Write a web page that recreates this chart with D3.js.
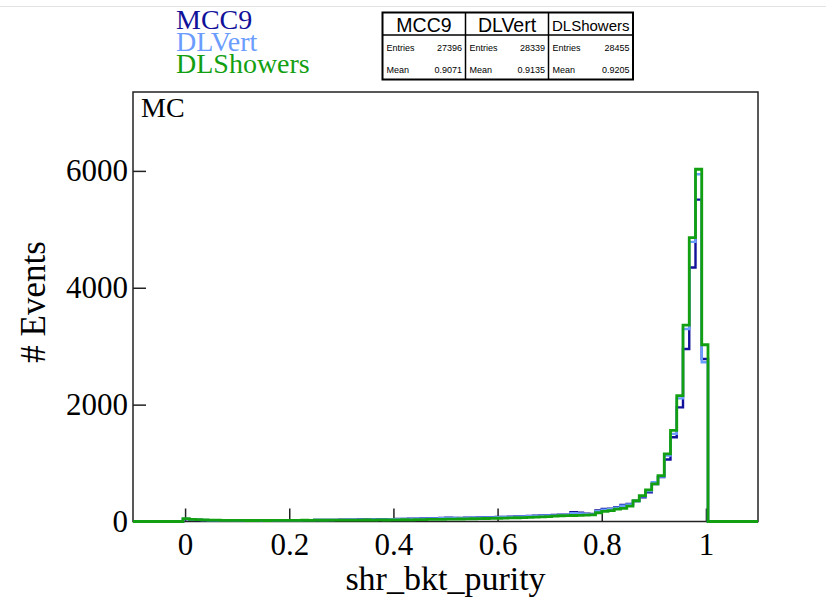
<!DOCTYPE html>
<html>
<head>
<meta charset="utf-8">
<script src="https://cdn.jsdelivr.net/npm/d3@7"></script>
<style>
  body { margin: 0; background: #fff; }
  svg { display: block; }
</style>
</head>
<body>
<div id="chart"></div>
<script>
// histogram definition (ROOT style: 100 bins from -0.1 to 1.1)
var xMin = -0.1, xMax = 1.1, nBins = 100;
var firstBin = 8; // first filled bin, starts at x = -0.004

var seriesNames = ["MCC9", "DLVert", "DLShowers"];
var seriesColors = ["#11119a", "#6b9cff", "#12a012"];

// bin contents from bin 8 up to bin 91
var mcc9Counts = [
  40, 30, 26, 23, 21, 20, 19, 19, 18, 19, 18, 19, 20, 19, 20, 21, 21, 22,
  23, 24, 24, 26, 26, 28, 28, 30, 31, 32, 33, 35, 36, 38, 39, 41,
  43, 45, 47, 50, 52, 55, 57, 60, 64, 62, 60, 63, 66, 70, 72, 75,
  78, 80, 84, 88, 92, 96, 100, 104, 108,
  112, 115, 118, 160, 150, 132, 131, 188,
  215, 220, 245, 285, 300, 350, 416, 501, 640, 760, 1060, 1441, 1953, 2951, 4346, 5508, 2780
];
var dlvertCounts = [
  44, 34, 28, 25, 22, 21, 20, 19, 19, 19, 18, 19, 19, 19, 20, 20, 21, 21,
  22, 23, 23, 25, 25, 26, 27, 28, 29, 30, 31, 32, 33, 35, 36, 38,
  40, 42, 44, 46, 48, 51, 53, 56, 60, 59, 58, 60, 63, 66, 68, 71,
  74, 76, 79, 83, 87, 91, 95, 99, 102,
  105, 110, 113, 140, 138, 125, 122, 175,
  200, 210, 235, 270, 290, 352, 430, 520, 672, 770, 1128, 1499, 2107, 3293, 4785, 5942, 2725
];
var dlshowersCounts = [
  48, 38, 32, 28, 24, 22, 20, 19, 18, 18, 17, 17, 18, 17, 18, 19, 18, 19,
  20, 21, 20, 22, 21, 23, 22, 24, 23, 25, 24, 26, 25, 27, 26, 28,
  28, 30, 29, 32, 33, 35, 36, 38, 40, 41, 43, 45, 47, 49, 51, 53,
  56, 58, 61, 64, 67, 70, 74, 78, 83,
  92, 98, 100, 103, 105, 108, 112, 150,
  172, 185, 212, 225, 262, 355, 444, 541, 644, 786, 1157, 1560, 2153, 3361, 4859, 6028, 3025
];

// stats box
var statEntries = ["27396", "28339", "28455"];
var statMeans = ["0.9071", "0.9135", "0.9205"];

var xTicks = [0, 0.2, 0.4, 0.6, 0.8, 1];
var yTicks = [0, 2000, 4000, 6000];
var yMax = 7350;

var W = 826, H = 604;
var frame = {left: 133, right: 758, top: 92, bottom: 521.5};
var serif = "'Liberation Serif', 'Times New Roman', serif";
var sans = "'Liberation Sans', Arial, sans-serif";

var svg, xScale, yScale;

function histPoints (counts){
  var w = (xMax - xMin) / nBins;
  var pts = [];
  for (var i = 0; i < nBins; i++) {
    var v = 0;
    if (i >= firstBin && i - firstBin < counts.length) v = counts[i - firstBin];
    pts.push([xMin + i * w, v]);
  }
  pts.push([xMax, 0]);
  return pts;
}

function drawFrameAndAxes (){
  xScale = d3.scaleLinear().domain([xMin, xMax]).range([frame.left, frame.right]);
  yScale = d3.scaleLinear().domain([0, yMax]).range([frame.bottom, frame.top]);

  var xAxis = d3.axisBottom(xScale)
    .tickValues(xTicks)
    .tickFormat(function (d){ return String(d); })
    .tickSizeInner(-13).tickSizeOuter(0).tickPadding(11);
  var yAxis = d3.axisLeft(yScale)
    .tickValues(yTicks)
    .tickFormat(function (d){ return String(d); })
    .tickSizeInner(-13).tickSizeOuter(0).tickPadding(5);

  var gx = svg.append("g")
    .attr("class", "x axis")
    .attr("transform", "translate(0," + frame.bottom + ")")
    .call(xAxis);
  var gy = svg.append("g")
    .attr("class", "y axis")
    .attr("transform", "translate(" + frame.left + ",0)")
    .call(yAxis);

  [gx, gy].forEach(function (g){
    g.select(".domain").remove();
    g.selectAll("line").attr("stroke", "#222").attr("stroke-width", 1.5);
    g.selectAll("text")
      .attr("fill", "#000")
      .style("font-family", serif)
      .style("font-size", "31px");
  });

  svg.append("rect")
    .attr("x", frame.left).attr("y", frame.top)
    .attr("width", frame.right - frame.left)
    .attr("height", frame.bottom - frame.top)
    .attr("fill", "none")
    .attr("stroke", "#222")
    .attr("stroke-width", 1.5);

  svg.append("text")
    .attr("x", (frame.left + frame.right) / 2)
    .attr("y", 590)
    .attr("text-anchor", "middle")
    .style("font-family", serif).style("font-size", "34px")
    .text("shr_bkt_purity");

  svg.append("text")
    .attr("transform", "translate(45,302) rotate(-90)")
    .attr("text-anchor", "middle")
    .style("font-family", serif).style("font-size", "35px")
    .text("# Events");

  svg.append("text")
    .attr("x", 141).attr("y", 117)
    .style("font-family", serif).style("font-size", "28px")
    .text("MC");
}

function drawHistograms (){
  var line = d3.line()
    .x(function (d){ return xScale(d[0]); })
    .y(function (d){ return yScale(d[1]); })
    .curve(d3.curveStepAfter);

  var allCounts = [mcc9Counts, dlvertCounts, dlshowersCounts];
  var widths = [2.4, 2.4, 2.8];
  svg.append("g").attr("id", "hists")
    .selectAll("path")
    .data(allCounts)
    .enter()
    .append("path")
    .attr("d", function (d){ return line(histPoints(d)); })
    .attr("fill", "none")
    .attr("stroke", function (d, i){ return seriesColors[i]; })
    .attr("stroke-width", function (d, i){ return widths[i]; })
    .attr("stroke-linejoin", "miter");
}

function drawLegend (){
  svg.append("g").attr("class", "legend")
    .selectAll("text")
    .data(seriesNames)
    .enter()
    .append("text")
    .attr("x", 176)
    .attr("y", function (d, i){ return 29 + i * 22; })
    .attr("fill", function (d, i){ return seriesColors[i]; })
    .style("font-family", serif).style("font-size", "28px")
    .text(function (d){ return d; });
}

function drawStats (){
  var box = {x: 382.5, y: 12.5, w: 250.5, h: 67};
  var colX = [box.x, 465.5, 548.5, box.x + box.w];
  var g = svg.append("g").attr("class", "stats");

  g.append("rect")
    .attr("x", box.x).attr("y", box.y)
    .attr("width", box.w).attr("height", box.h)
    .attr("fill", "#fff").attr("stroke", "#000").attr("stroke-width", 2);
  g.append("line")
    .attr("x1", box.x).attr("x2", box.x + box.w)
    .attr("y1", 35).attr("y2", 35)
    .attr("stroke", "#000").attr("stroke-width", 1.5);
  g.selectAll(".div").data([1, 2]).enter().append("line")
    .attr("x1", function (d){ return colX[d]; })
    .attr("x2", function (d){ return colX[d]; })
    .attr("y1", box.y).attr("y2", box.y + box.h)
    .attr("stroke", "#000").attr("stroke-width", 1.5);

  seriesNames.forEach(function (name, i){
    var x0 = colX[i], x1 = colX[i + 1];
    g.append("text")
      .attr("x", (x0 + x1) / 2).attr("y", name.length > 6 ? 30.7 : 32)
      .attr("text-anchor", "middle")
      .style("font-family", sans)
      .style("font-size", name.length > 6 ? "15px" : "19.5px")
      .text(name);
    [["Entries", statEntries[i], 50.7], ["Mean", statMeans[i], 72.7]].forEach(function (row){
      g.append("text")
        .attr("x", x0 + 4).attr("y", row[2])
        .style("font-family", sans).style("font-size", "9px")
        .text(row[0]);
      g.append("text")
        .attr("x", x1 - 3.5).attr("y", row[2])
        .attr("text-anchor", "end")
        .style("font-family", sans).style("font-size", "9px")
        .text(row[1]);
    });
  });
}

function init (){
  svg = d3.select("#chart")
    .append("svg")
    .attr("width", W)
    .attr("height", H);

  svg.append("rect").attr("width", W).attr("height", H).attr("fill", "#fff");
  svg.append("line")
    .attr("x1", 0).attr("x2", W).attr("y1", 6.5).attr("y2", 6.5)
    .attr("stroke", "#e2e2e2").attr("stroke-width", 1);

  drawFrameAndAxes();
  drawHistograms();
  drawLegend();
  drawStats();
}

init();
</script>
</body>
</html>
